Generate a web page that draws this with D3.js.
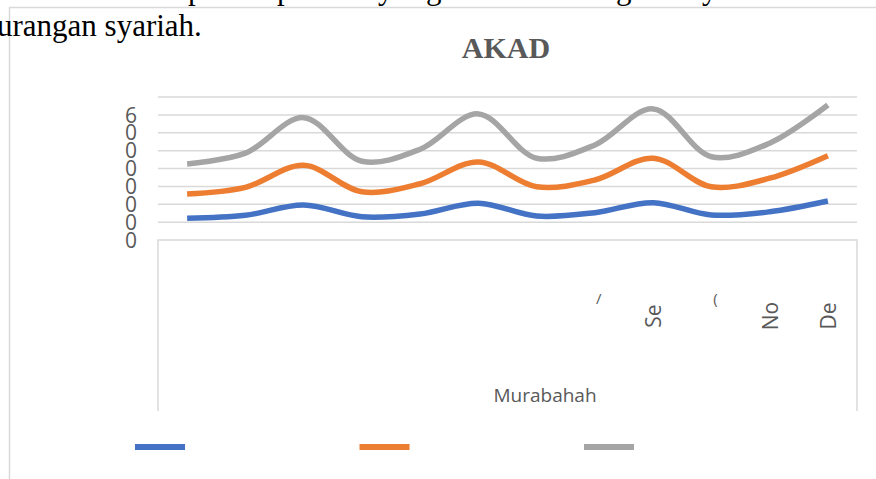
<!DOCTYPE html>
<html><head><meta charset="utf-8">
<script src="https://cdn.jsdelivr.net/npm/d3@7"></script>
<style>html,body{margin:0;padding:0;background:#fff;overflow:hidden}</style>
</head><body>
<svg id="c" width="876" height="479"></svg>
<script>
const categories = ["Jan","Feb","Mar","Apr","Mei","Jun","Jul","Agu","Sep","Okt","Nov","Des"];
const tickLabels = ["","","","","","","","/","Se","(","No","De"];
const seriesNames = ["", "", ""];
const seriesA = [1.22,1.38,1.96,1.30,1.46,2.06,1.34,1.53,2.09,1.40,1.58,2.18];
const seriesB = [2.58,2.95,4.18,2.70,3.15,4.37,2.98,3.36,4.58,2.98,3.46,4.72];
const seriesC = [4.26,4.86,6.85,4.41,5.08,7.06,4.58,5.32,7.34,4.66,5.42,7.56];
const yTicks = [0,1,2,3,4,5,6,7,8];
const yTickLabels = ["0","0","0","0","0","0","0","6",""];
const chartTitle = "AKAD";
const axisTitle = "Murabahah";

const colors = ["#4472C4","#ED7D31","#A5A5A5"];
const svg = d3.select("#c");
const grid = "#d9d9d9";

// document text fragments (page behind the chart)
const pageTop = svg.append("g").attr("font-family","Liberation Serif, Times New Roman, serif").attr("font-size",31).attr("fill","#000");
[["p",188],["p",277],["y",378],["g",426],["g",616],["y",702]].forEach(([t,px])=>pageTop.append("text").attr("x",px).attr("y",-1).text(t));

// outer chart border
svg.append("path").attr("d","M9.5,479 V7.5 H876").attr("fill","none").attr("stroke",grid).attr("stroke-width",1.5);

svg.append("text").attr("x",-3).attr("y",36).attr("font-family","Liberation Serif, Times New Roman, serif")
  .attr("font-size",31).attr("fill","#000").text("urangan syariah.");

const L = 158, R = 857, T = 97.1, B = 240, boxBottom = 411;
const x = d3.scaleBand().domain(categories).range([L, R]);
const cx = d => x(d) + x.bandwidth()/2;
const y = d3.scaleLinear().domain([0, 8]).range([B, T]);

// title
svg.append("text").attr("x",506).attr("y",58).attr("text-anchor","middle")
  .attr("font-family","Liberation Serif, Times New Roman, serif").attr("font-weight","bold")
  .attr("font-size",30).attr("fill","#595959").text(chartTitle);

// gridlines
svg.append("g").selectAll("line").data(yTicks.filter(v=>v>0)).join("line")
  .attr("x1",L).attr("x2",R).attr("y1",d=>y(d)).attr("y2",d=>y(d))
  .attr("stroke",grid).attr("stroke-width",1.5);

// category axis box
svg.append("path").attr("d",`M${L},${boxBottom} V${B} H${R} V${boxBottom}`)
  .attr("fill","none").attr("stroke",grid).attr("stroke-width",1.5);

// y tick labels
svg.append("g").selectAll("text").data(yTicks).join("text")
  .attr("x",137).attr("y",d=>y(d)).attr("dy","0.36em").attr("text-anchor","end")
  .attr("font-family","Open Sans, sans-serif").attr("font-size",21).attr("fill","#595959")
  .text((d,i)=>yTickLabels[i]);

// category labels
const cl = svg.append("g").attr("font-family","Open Sans, sans-serif").attr("font-size",21).attr("fill","#595959");
categories.forEach((c,i)=>{
  const t = tickLabels[i];
  if (!t) return;
  if (t.length > 1) {
    cl.append("text").attr("transform",`translate(${cx(c)+8},316) rotate(-90)`)
      .attr("text-anchor","middle").text(t);
  } else {
    cl.append("text").attr("x",cx(c)+4).attr("y",304).attr("text-anchor","middle")
      .attr("font-size",15).text(t);
  }
});

// axis title
svg.append("text").attr("x",545).attr("y",402).attr("text-anchor","middle")
  .attr("font-family","Open Sans, sans-serif").attr("font-size",19).attr("fill","#595959").text(axisTitle);

// lines
const line = d3.line().x((d,i)=>cx(categories[i])).y(d=>y(d)).curve(d3.curveCatmullRom.alpha(0.5));
[seriesA, seriesB, seriesC].forEach((s,k)=>{
  svg.append("path").attr("d", line(s)).attr("fill","none").attr("stroke",colors[k])
    .attr("stroke-width",5.5).attr("stroke-linejoin","round");
});

// legend
const legX = d3.scalePoint().domain(d3.range(3)).range([135, 584]);
svg.append("g").selectAll("line").data(seriesNames).join("line")
  .attr("x1",(d,i)=>legX(i)).attr("x2",(d,i)=>legX(i)+50)
  .attr("y1",447).attr("y2",447).attr("stroke",(d,i)=>colors[i]).attr("stroke-width",6);
</script>
</body></html>
